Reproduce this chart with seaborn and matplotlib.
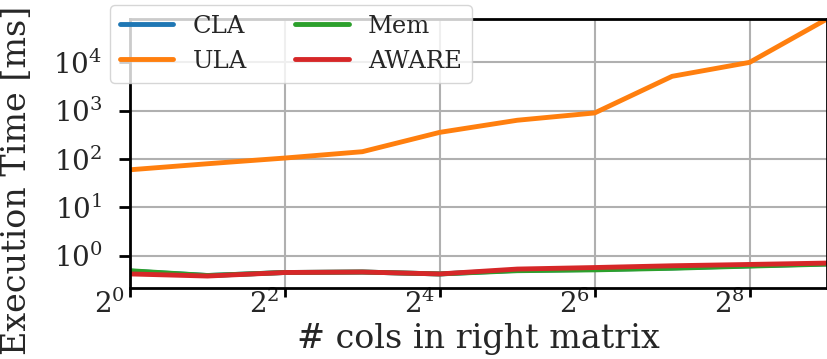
import matplotlib.pyplot as plt
import matplotlib.ticker as mticker
import matplotlib.transforms as mtransforms
import pandas as pd
import seaborn as sns
plt.switch_backend('agg')

cols = [1, 2, 4, 8, 16, 32, 64, 128, 256, 512]
methods = ["CLA", "ULA", "Mem", "AWARE"]
cla = [0.48, 0.39, 0.45, 0.46, 0.42, 0.50, 0.52, 0.56, 0.62, 0.68]
ula = [60, 80, 105, 142, 357, 635, 900, 5150, 10000, 79000]
mem = [0.49, 0.39, 0.45, 0.46, 0.42, 0.49, 0.51, 0.55, 0.61, 0.67]
aware = [0.42, 0.38, 0.45, 0.46, 0.42, 0.53, 0.57, 0.62, 0.66, 0.705]

df = pd.DataFrame({
    "cols": cols * 4,
    "method": [m for m in methods for _ in cols],
    "time": cla + ula + mem + aware,
})

sns.set_style("whitegrid")
plt.rcParams['font.family'] = ['DejaVu Serif']
plt.rcParams['mathtext.fontset'] = 'dejavuserif'

fig = plt.figure(figsize=(8.28, 3.59), dpi=100)
ax = fig.add_axes([130/828, 1-288/359, 697/828, 269/359])
sns.lineplot(data=df, x="cols", y="time", hue="method", hue_order=methods,
             palette=sns.color_palette("tab10", 4), linewidth=3.5, ax=ax)

ax.set_xscale("log", base=2)
ax.set_yscale("log")
ax.set_xlim(1, 512)
ax.set_ylim(0.215, 79000)
ax.set_xticks([1, 4, 16, 64, 256])
ax.xaxis.set_major_formatter(mticker.LogFormatterSciNotation(base=2))
ax.xaxis.set_minor_locator(mticker.NullLocator())
ax.set_yticks([1, 10, 100, 1000, 10000])
ax.yaxis.set_minor_locator(mticker.NullLocator())
ax.tick_params(axis='both', which='major', labelsize=20, width=2,
               color='black', bottom=True, left=True, direction='out')
ax.tick_params(axis='x', length=6.5, pad=-5)
ax.tick_params(axis='y', length=8, pad=12)
shift = mtransforms.ScaledTranslation(-0.05, 0, fig.dpi_scale_trans)
for lab in ax.get_xticklabels():
    lab.set_ha('right')
    lab.set_transform(lab.get_transform() + shift)
ax.grid(True, color='#b0b0b0', linewidth=1.5)
for s in ax.spines.values():
    s.set_color('black')
    s.set_linewidth(2)
ax.set_xlabel("# cols in right matrix", fontsize=24, labelpad=3)
ax.set_ylabel("Execution Time [ms]", fontsize=24)
ax.yaxis.set_label_coords(-0.139, 0.40)

ax.legend(loc='upper left', bbox_to_anchor=(-0.029, 1.052), borderaxespad=0,
          ncol=2, fontsize=17.5, handlelength=2.2, frameon=True, framealpha=0.8,
          edgecolor='#cccccc')

fig.savefig("out.png", dpi=100)
